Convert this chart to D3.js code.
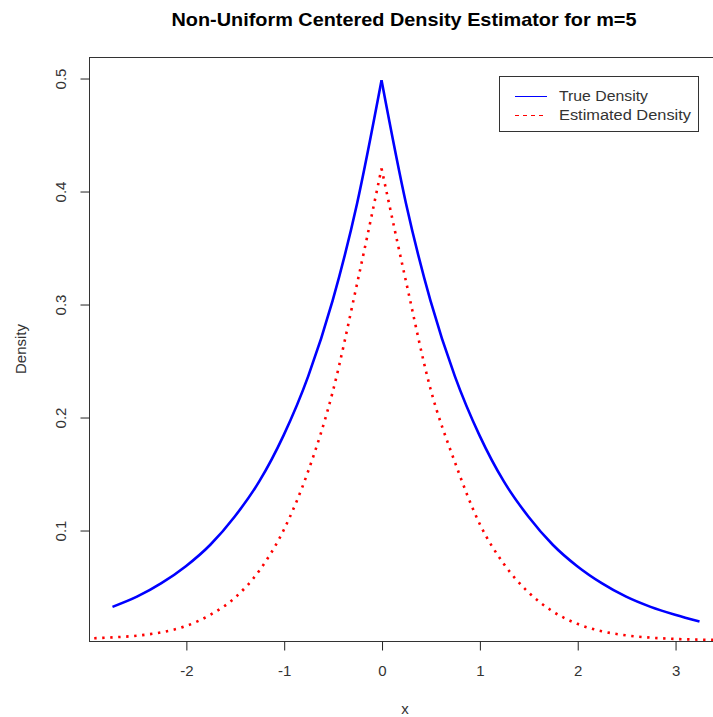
<!DOCTYPE html>
<html>
<head>
<meta charset="utf-8">
<script src="https://cdn.jsdelivr.net/npm/d3@7"></script>
<style>
  html, body { margin: 0; padding: 0; background: #fff; }
  svg { display: block; font-family: "Liberation Sans", Arial, sans-serif; }
</style>
</head>
<body>
<svg id="chart" width="713" height="717"></svg>
<script>
// True density sampled on the data grid
const trueX = [-2.75, -2.5, -2.25, -2.0, -1.75, -1.5, -1.25, -1.0, -0.75, -0.5, -0.25, 0,
               0.25, 0.5, 0.75, 1.0, 1.25, 1.5, 1.75, 2.0, 2.25, 2.5, 2.75, 3.0, 3.25];
const trueY = [0.032, 0.041, 0.053, 0.068, 0.087, 0.112, 0.143, 0.184, 0.236, 0.303, 0.389, 0.498,
               0.389, 0.303, 0.236, 0.184, 0.143, 0.112, 0.087, 0.068, 0.053, 0.041, 0.032, 0.025, 0.019];

// Estimated density on a wider evaluation grid
const estX = [-3.1, -2.75, -2.5, -2.25, -2.0, -1.75, -1.5, -1.25, -1.0, -0.75, -0.5, -0.25, 0,
              0.25, 0.5, 0.75, 1.0, 1.25, 1.5, 1.75, 2.0, 2.25, 2.5, 2.75, 3.0, 3.25, 3.6];
const estY = [0.0038, 0.005, 0.0065, 0.0095, 0.015, 0.025, 0.040, 0.064, 0.100, 0.152, 0.222, 0.318, 0.420,
              0.320, 0.225, 0.160, 0.106, 0.070, 0.045, 0.028, 0.017, 0.0105, 0.0068, 0.0048, 0.0036, 0.003, 0.0025];

const xTicks = [-2, -1, 0, 1, 2, 3];
const yTicks = [0.1, 0.2, 0.3, 0.4, 0.5];

const titleText = "Non-Uniform Centered Density Estimator for m=5";
const xLabel = "x";
const yLabel = "Density";
const legendLabels = ["True Density", "Estimated Density"];
const legendColors = ["#0000ff", "#ff0000"];
const legendWidths = [89, 132];

const svg = d3.select("#chart");
const plot = { left: 89, right: 723, top: 57, bottom: 641 };
const FONT = "'Liberation Sans', Arial, sans-serif";

const x = d3.scaleLinear().domain([-2.99, 3.49]).range([plot.left, plot.right]);
const y = d3.scaleLinear().domain([0.0018, 0.5186]).range([plot.bottom, plot.top]);

svg.append("clipPath").attr("id", "plotclip")
  .append("rect")
  .attr("x", plot.left).attr("y", plot.top)
  .attr("width", plot.right - plot.left).attr("height", plot.bottom - plot.top);

// Each curve is drawn as two halves meeting at the cusp, so the peak stays sharp
function halves(xs, ys) {
  const pts = xs.map((v, i) => [v, ys[i]]);
  return [pts.filter(p => p[0] <= 0), pts.filter(p => p[0] >= 0)];
}
const line = d3.line().x(d => x(d[0])).y(d => y(d[1])).curve(d3.curveMonotoneX);

const g = svg.append("g").attr("clip-path", "url(#plotclip)");

// Estimated density: red dotted
halves(estX, estY).forEach(h => {
  g.append("path").datum(h)
    .attr("d", line)
    .attr("fill", "none")
    .attr("stroke", "#ff0000")
    .attr("stroke-width", 2.6)
    .attr("stroke-dasharray", "2.4 5.6");
});

// True density: blue solid
halves(trueX, trueY).forEach(h => {
  g.append("path").datum(h)
    .attr("d", line)
    .attr("fill", "none")
    .attr("stroke", "#0000ff")
    .attr("stroke-width", 2.6);
});

// Plot frame
svg.append("rect")
  .attr("x", plot.left + 0.5).attr("y", plot.top + 0.5)
  .attr("width", plot.right - plot.left).attr("height", plot.bottom - plot.top)
  .attr("fill", "none").attr("stroke", "#333").attr("stroke-width", 1);

// x axis
const xAxis = d3.axisBottom(x).tickValues(xTicks).tickSize(9).tickPadding(15)
  .tickFormat(d => String(d));
const gx = svg.append("g").attr("transform", `translate(0.5,${plot.bottom + 0.5})`).call(xAxis);
gx.select(".domain").remove();
gx.selectAll("line").attr("stroke", "#222");
gx.selectAll("text").attr("font-size", 15).attr("fill", "#333").attr("font-family", FONT);

// y axis with rotated labels
const yAxis = d3.axisLeft(y).tickValues(yTicks).tickSize(9).tickFormat(d3.format(".1f"));
const gy = svg.append("g").attr("transform", `translate(${plot.left + 0.5},0.5)`).call(yAxis);
gy.select(".domain").remove();
gy.selectAll("line").attr("stroke", "#222");
gy.selectAll("text")
  .attr("font-size", 15).attr("fill", "#333").attr("font-family", FONT)
  .attr("x", null)
  .attr("text-anchor", "middle")
  .attr("transform", "translate(-29,0) rotate(-90)")
  .attr("dy", "0.35em");

// Title and axis labels
svg.append("text")
  .attr("x", 404).attr("y", 26)
  .attr("text-anchor", "middle")
  .attr("font-size", 19).attr("font-weight", "bold").attr("fill", "#000")
  .attr("textLength", 465).attr("lengthAdjust", "spacingAndGlyphs")
  .text(titleText);

svg.append("text")
  .attr("x", 405).attr("y", 714)
  .attr("text-anchor", "middle")
  .attr("font-size", 15).attr("fill", "#333")
  .text(xLabel);

svg.append("text")
  .attr("transform", `translate(26,${(plot.top + plot.bottom) / 2}) rotate(-90)`)
  .attr("text-anchor", "middle")
  .attr("font-size", 15).attr("fill", "#333")
  .text(yLabel);

// Legend
const lg = svg.append("g");
lg.append("rect")
  .attr("x", 499.5).attr("y", 76.5).attr("width", 199).attr("height", 55)
  .attr("fill", "#fff").attr("stroke", "#333").attr("stroke-width", 1);
legendLabels.forEach((lab, i) => {
  const cy = 96 + i * 19;
  lg.append("line")
    .attr("x1", 515).attr("x2", 547).attr("y1", cy + 0.5).attr("y2", cy + 0.5)
    .attr("stroke", legendColors[i]).attr("stroke-width", 1)
    .attr("stroke-dasharray", i === 1 ? "4 4" : null);
  lg.append("text")
    .attr("x", 559).attr("y", cy).attr("dy", "0.35em")
    .attr("font-size", 15.5).attr("fill", "#333")
    .attr("textLength", legendWidths[i]).attr("lengthAdjust", "spacingAndGlyphs")
    .text(lab);
});
</script>
</body>
</html>
